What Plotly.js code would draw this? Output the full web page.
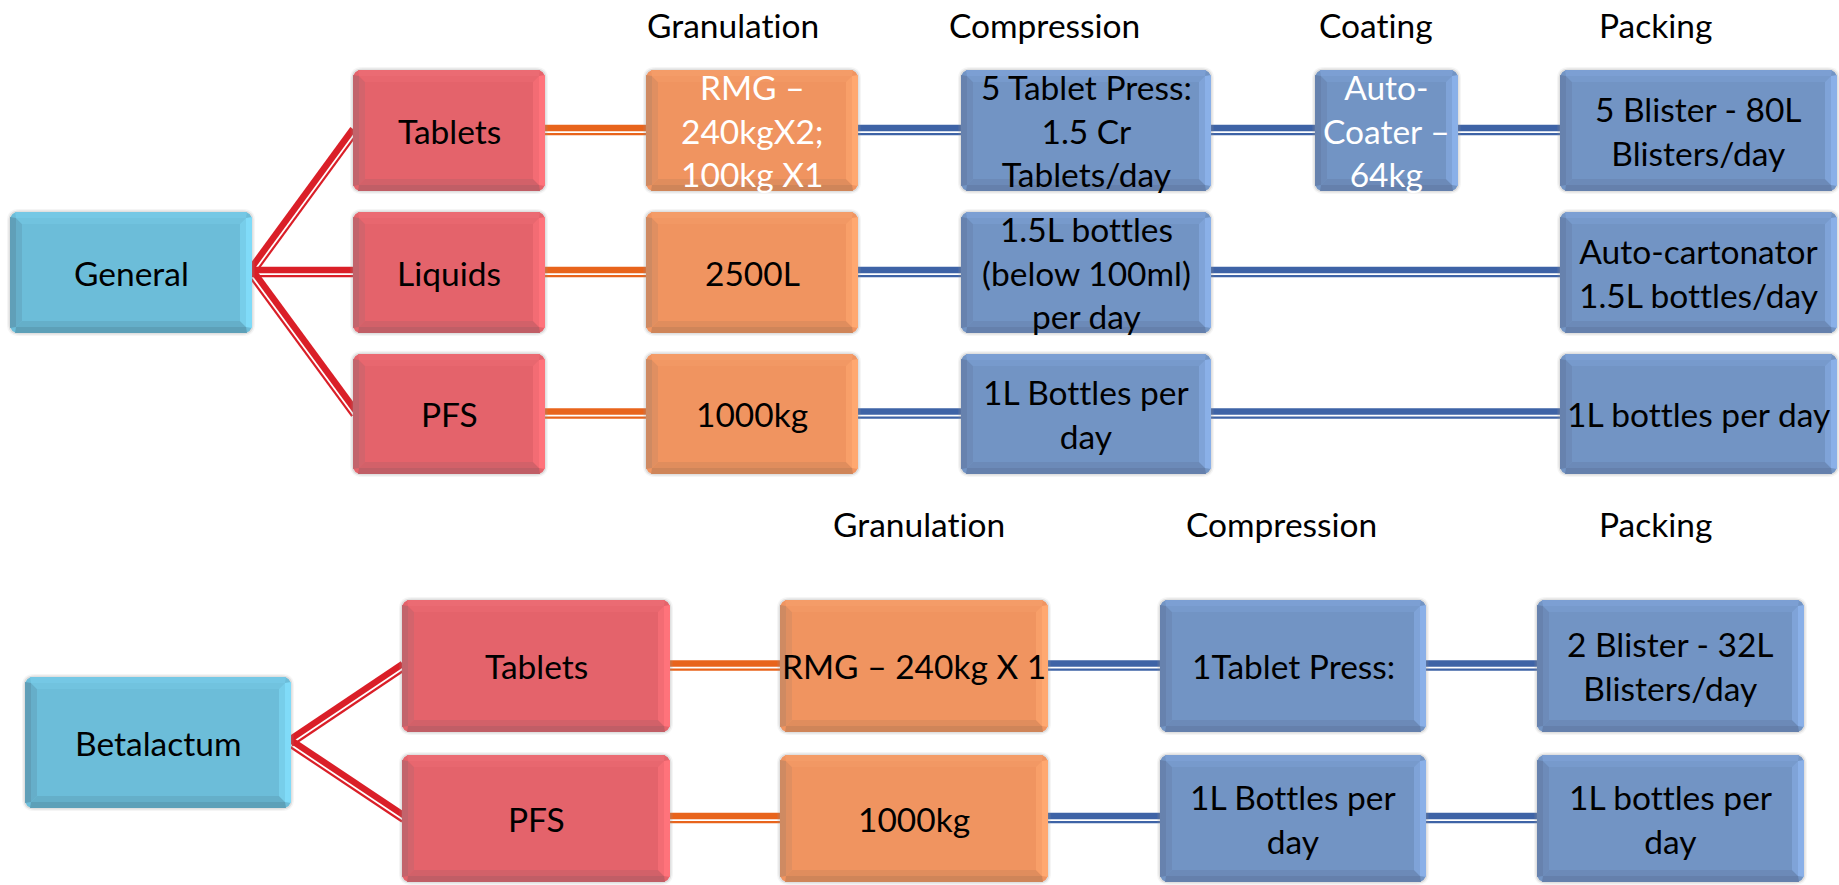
<!DOCTYPE html>
<html><head><meta charset="utf-8">
<script src="https://cdn.plot.ly/plotly-3.0.1.min.js"></script>
<style>
html,body{margin:0;padding:0;background:#fff;}
#chart{width:1839px;height:885px;}
svg text{font-variant-ligatures:none !important;font-feature-settings:"liga" 0,"clig" 0 !important;}
</style>
</head><body><div id="chart"></div>
<script>
// ---------- DATA ----------
const topStages = ['Granulation', 'Compression', 'Coating', 'Packing'];
const topRoot = 'General';
const topDosageForms = ['Tablets', 'Liquids', 'PFS'];
const topGranulation = ['RMG –<br>240kgX2;<br>100kg X1', '2500L', '1000kg'];
const topCompression = ['5 Tablet Press:<br>1.5 Cr<br>Tablets/day', '1.5L bottles<br>(below 100ml)<br>per day', '1L Bottles per<br>day'];
const topCoating = ['Auto-<br>Coater –<br>64kg', '', ''];
const topPacking = ['5 Blister - 80L<br>Blisters/day', 'Auto-cartonator<br>1.5L bottles/day', '1L bottles per day'];

const bottomStages = ['Granulation', 'Compression', 'Packing'];
const bottomRoot = 'Betalactum';
const bottomDosageForms = ['Tablets', 'PFS'];
const bottomGranulation = ['RMG – 240kg X 1', '1000kg'];
const bottomCompression = ['1Tablet Press:', '1L Bottles per<br>day'];
const bottomPacking = ['2 Blister - 32L<br>Blisters/day', '1L bottles per<br>day'];

// ---------- LAYOUT GEOMETRY (pixels) ----------
const GEO = {
  top: {
    root: {x: [10, 252], y: [212, 333]},
    rows: [[70, 191], [212, 333], [354, 474]],
    cols: {form: [353, 545], gran: [646, 858], comp: [961, 1211], coat: [1315, 1458], pack: [1560, 1837]},
    headerY: 25, headerX: [733, 1044, 1376, 1655]
  },
  bottom: {
    root: {x: [25, 291], y: [677, 808]},
    rows: [[600, 732], [755, 882]],
    cols: {form: [402, 670], gran: [780, 1048], comp: [1160, 1426], pack: [1537, 1804]},
    headerY: 524, headerX: [919, 1281, 1655]
  }
};

// ---------- STYLE ----------
const PAL = {
  root: {face: '#6CBDD9', light: '#80DBF8', top: '#75C8E5', dark: '#5DA0B8', left: '#609FB8'},
  form: {face: '#E4636B', light: '#FF737B', top: '#EB6B73', dark: '#C05E66', left: '#C2646C'},
  gran: {face: '#F09460', light: '#FFA870', top: '#F49C68', dark: '#CF8559', left: '#CF8A62'},
  proc: {face: '#7294C4', light: '#8AB0E8', top: '#7C9FD3', dark: '#6580AC', left: '#6782AE'}
};
const LINE = {red: '#DA1F28', orange: '#E8641C', blue: '#3E63A6'};
const FONT = 'Lato, "Open Sans", sans-serif';
const FS = 33.5;

const shapes = [];
const annotations = [];

function rr(x0, x1, y0, y1, r) {
  return `M${x0 + r},${y0} L${x1 - r},${y0} Q${x1},${y0} ${x1},${y0 + r} L${x1},${y1 - r} Q${x1},${y1} ${x1 - r},${y1} ` +
         `L${x0 + r},${y1} Q${x0},${y1} ${x0},${y1 - r} L${x0},${y0 + r} Q${x0},${y0} ${x0 + r},${y0} Z`;
}
function poly(pts) { return 'M' + pts.map(p => p[0].toFixed(2) + ',' + p[1].toFixed(2)).join(' L') + ' Z'; }
function mix(c1, c2, t) {
  const a = parseInt(c1.slice(1), 16), b = parseInt(c2.slice(1), 16);
  const ch = s => Math.round(((a >> s) & 255) * (1 - t) + ((b >> s) & 255) * t);
  return `rgb(${ch(16)},${ch(8)},${ch(0)})`;
}

function bevel(x0, x1, y0, y1, d0, d1, c, color) {
  const P = (d) => ({l: x0 + d, r: x1 - d, t: y0 + d, b: y1 - d});
  const o = P(d0), i = P(d1);
  const cc = d0 === 0 ? c : 0;
  shapes.push({type: 'path', path: poly([[o.l, o.t + cc], [i.l, i.t], [i.l, i.b], [o.l, o.b - cc]]), fillcolor: color.left, line: {width: 0}});
  shapes.push({type: 'path', path: poly([[o.l + cc, o.b], [i.l, i.b], [i.r, i.b], [o.r - cc, o.b]]), fillcolor: color.dark, line: {width: 0}});
  shapes.push({type: 'path', path: poly([[o.l + cc, o.t], [o.r - cc, o.t], [i.r, i.t], [i.l, i.t]]), fillcolor: color.top, line: {width: 0}});
  shapes.push({type: 'path', path: poly([[o.r, o.t + cc], [o.r, o.b - cc], [i.r, i.b], [i.r, i.t]]), fillcolor: color.light, line: {width: 0}});
}

function addBox(xr, yr, pal, text, textColor) {
  const [x0, x1] = xr, [y0, y1] = yr, r = 9, b = 12, c = 5;
  shapes.push({type: 'path', path: rr(x0 - 3, x1 + 3, y0 - 3, y1 + 3, r + 3), fillcolor: 'rgba(160,160,160,0.10)', line: {width: 0}});
  shapes.push({type: 'path', path: rr(x0 - 1.5, x1 + 1.5, y0 - 1.5, y1 + 1.5, r + 1.5), fillcolor: 'rgba(150,150,150,0.22)', line: {width: 0}});
  shapes.push({type: 'path', path: rr(x0, x1, y0, y1, r), fillcolor: pal.face, line: {width: 0}});
  const outer = {left: pal.left, dark: pal.dark, top: pal.top, light: pal.light};
  const midc = {left: mix(pal.left, pal.face, 0.5), dark: mix(pal.dark, pal.face, 0.5), top: mix(pal.top, pal.face, 0.5), light: mix(pal.light, pal.face, 0.45)};
  bevel(x0, x1, y0, y1, 0, b * 0.5, c, outer);
  bevel(x0, x1, y0, y1, b * 0.5, b, c, midc);
  if (text) {
    annotations.push({x: (x0 + x1) / 2, y: (y0 + y1) / 2, xref: 'x', yref: 'y', text: text, showarrow: false,
      xanchor: 'center', yanchor: 'middle', align: 'center', font: {family: FONT, size: FS, color: textColor || '#000'}});
  }
}

function addLink(xa, ya, xb, yb, color) {
  const L = Math.hypot(xb - xa, yb - ya), ux = (xb - xa) / L, uy = (yb - ya) / L;
  const nx = uy, ny = -ux; // left normal on screen (y down)
  const o1 = 2.5, o2 = -3.6;
  shapes.push({type: 'line', x0: xa + nx * o1, y0: ya + ny * o1, x1: xb + nx * o1, y1: yb + ny * o1, line: {color: color, width: 6.5}});
  shapes.push({type: 'line', x0: xa + nx * o2, y0: ya + ny * o2, x1: xb + nx * o2, y1: yb + ny * o2, line: {color: color, width: 2.2}});
}

function mid(a) { return (a[0] + a[1]) / 2; }

function buildSection(g, root, forms, stages, stageCols) {
  const rootCy = mid(g.root.y);
  forms.forEach((f, i) => {
    const cy = mid(g.rows[i]);
    addLink(g.root.x[1] - 1, rootCy, g.cols.form[0] + 2, cy, LINE.red);
    let prevRight = g.cols.form[1];
    let color = LINE.orange;
    stageCols.forEach(sc => {
      if (!sc.texts[i]) return;
      const col = g.cols[sc.key];
      addLink(prevRight - 2, cy, col[0] + 2, cy, color);
      prevRight = col[1];
      color = LINE.blue;
    });
  });
  addBox(g.root.x, g.root.y, PAL.root, root);
  forms.forEach((f, i) => {
    addBox(g.cols.form, g.rows[i], PAL.form, f);
    stageCols.forEach(sc => {
      if (!sc.texts[i]) return;
      addBox(g.cols[sc.key], g.rows[i], sc.pal, sc.texts[i], (sc.white || []).includes(i) ? '#FFFFFF' : '#000000');
    });
  });
  stages.forEach((s, k) => {
    annotations.push({x: g.headerX[k], y: g.headerY, xref: 'x', yref: 'y', text: s, showarrow: false,
      xanchor: 'center', yanchor: 'middle', font: {family: FONT, size: FS, color: '#000'}});
  });
}

buildSection(GEO.top, topRoot, topDosageForms, topStages, [
  {key: 'gran', texts: topGranulation, pal: PAL.gran, white: [0]},
  {key: 'comp', texts: topCompression, pal: PAL.proc},
  {key: 'coat', texts: topCoating, pal: PAL.proc, white: [0]},
  {key: 'pack', texts: topPacking, pal: PAL.proc}
]);
buildSection(GEO.bottom, bottomRoot, bottomDosageForms, bottomStages, [
  {key: 'gran', texts: bottomGranulation, pal: PAL.gran},
  {key: 'comp', texts: bottomCompression, pal: PAL.proc},
  {key: 'pack', texts: bottomPacking, pal: PAL.proc}
]);

const layout = {
  width: 1839, height: 885,
  margin: {l: 0, r: 0, t: 0, b: 0, pad: 0},
  paper_bgcolor: '#FFFFFF', plot_bgcolor: '#FFFFFF',
  showlegend: false,
  xaxis: {range: [0, 1839], visible: false, fixedrange: true},
  yaxis: {range: [885, 0], visible: false, fixedrange: true},
  shapes: shapes,
  annotations: annotations
};
Plotly.newPlot('chart', [{x: [], y: [], type: 'scatter', hoverinfo: 'skip'}], layout, {staticPlot: true, displayModeBar: false});
</script>
</body></html>
